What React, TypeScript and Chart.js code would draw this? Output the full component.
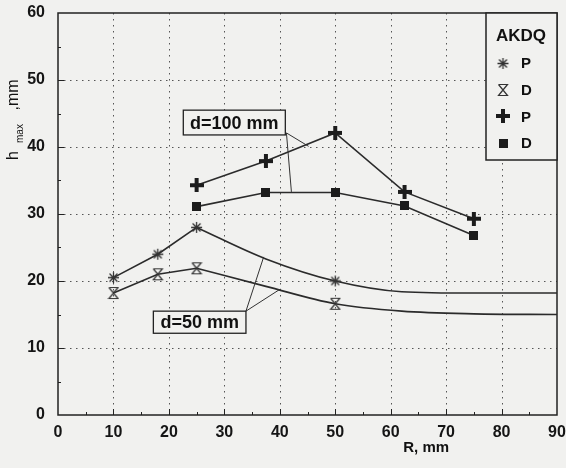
import React, { useEffect, useRef } from 'react';
import { Chart, registerables } from 'chart.js';

Chart.register(...registerables);

// ---- data ----
const rP50 = [10, 18, 25, 50];
const hP50 = [20.5, 24.0, 28.0, 20.0];
const rD50 = [10, 18, 25, 50];
const hD50 = [18.2, 21.0, 21.9, 16.6];
const rP50Fit = [25, 37.5, 50, 62, 75, 90];
const hP50Fit = [28.0, 23.3, 20.0, 18.4, 18.2, 18.2];
const rD50Fit = [25, 37.5, 50, 62, 75, 90];
const hD50Fit = [21.9, 19.2, 16.6, 15.5, 15.1, 15.0];
const rP100 = [25, 37.5, 50, 62.5, 75];
const hP100 = [34.3, 37.9, 42.1, 33.3, 29.3];
const rD100 = [25, 37.5, 50, 62.5, 75];
const hD100 = [31.1, 33.2, 33.2, 31.2, 26.8];

const xMin = 0, xMax = 90, xStep = 10;
const yMin = 0, yMax = 60, yStep = 10;

const legendTitle = 'AKDQ';
const legendLabels = ['P', 'D', 'P', 'D'];
const xTitle = 'R, mm';
const yTitleParts = ['h', 'max', ' ,mm'];

// annotation boxes in data units: [rLeft, rRight, hTop, hBottom]
const note100Text = 'd=100 mm';
const note100Box = [22.6, 41.0, 45.5, 41.8];
const note100From = [41.2, 42.1];
const note100To = [[45.2, 40.1], [42.1, 33.3]];
const note50Text = 'd=50 mm';
const note50Box = [17.2, 33.9, 15.5, 12.2];
const note50From = [33.9, 15.5];
const note50To = [[37.1, 23.6], [40.1, 18.8]];

const BG = '#f1f1ef';
const INK = '#222222';
const LINE = '#2b2b2b';

function makeCanvas(w: number, h: number, draw: (g: CanvasRenderingContext2D) => void) {
  const c = document.createElement('canvas');
  c.width = w;
  c.height = h;
  const g = c.getContext('2d')!;
  draw(g);
  return c;
}

export default function App() {
  const ref = useRef<HTMLCanvasElement>(null);

  useEffect(() => {
    document.body.style.margin = '0';
    const starImg = makeCanvas(13, 13, (g) => {
      g.strokeStyle = '#333';
      g.lineWidth = 1.3;
      const c = 6.5, r = 5.5, d = r * 0.72;
      g.beginPath();
      g.moveTo(c - r, c); g.lineTo(c + r, c);
      g.moveTo(c, c - r); g.lineTo(c, c + r);
      g.moveTo(c - d, c - d); g.lineTo(c + d, c + d);
      g.moveTo(c - d, c + d); g.lineTo(c + d, c - d);
      g.stroke();
    });
    const hourImg = makeCanvas(12, 14, (g) => {
      g.strokeStyle = '#333';
      g.lineWidth = 1.2;
      g.beginPath();
      g.moveTo(1.5, 1.5); g.lineTo(10.5, 1.5);
      g.lineTo(1.5, 12.5); g.lineTo(10.5, 12.5);
      g.lineTo(1.5, 1.5);
      g.stroke();
    });
    const crossImg = makeCanvas(14, 14, (g) => {
      g.fillStyle = '#1c1c1c';
      g.fillRect(5, 0, 4, 14);
      g.fillRect(0, 5, 14, 4);
    });
    const squareImg = makeCanvas(9, 9, (g) => {
      g.fillStyle = '#1c1c1c';
      g.fillRect(0, 0, 9, 9);
    });
    const legendImgs = [starImg, hourImg, crossImg, squareImg];

    const pts = (xs: number[], ys: number[]) => xs.map((x, i) => ({ x, y: ys[i] }));
    const hideAfter2 = { borderColor: (ctx: any) => (ctx.p0DataIndex >= 2 ? 'rgba(0,0,0,0)' : undefined) };

    const bgPlugin = {
      id: 'bg',
      beforeDraw(chart: any) {
        const { ctx, width, height } = chart;
        ctx.save();
        ctx.fillStyle = BG;
        ctx.fillRect(0, 0, width, height);
        ctx.restore();
      },
    };

    const framePlugin = {
      id: 'frame',
      beforeDatasetsDraw(chart: any) {
        const { ctx, chartArea: a, scales } = chart;
        const xs = scales.x, ys = scales.y;
        ctx.save();
        ctx.strokeStyle = '#555';
        ctx.lineWidth = 1;
        ctx.setLineDash([1.5, 4.5]);
        for (let v = xMin + xStep; v < xMax; v += xStep) {
          const px = Math.round(xs.getPixelForValue(v)) + 0.5;
          ctx.beginPath(); ctx.moveTo(px, a.top); ctx.lineTo(px, a.bottom); ctx.stroke();
        }
        for (let v = yMin + yStep; v < yMax; v += yStep) {
          const py = Math.round(ys.getPixelForValue(v)) + 0.5;
          ctx.beginPath(); ctx.moveTo(a.left, py); ctx.lineTo(a.right, py); ctx.stroke();
        }
        ctx.setLineDash([]);
        ctx.strokeStyle = INK;
        ctx.lineWidth = 1;
        for (let v = xMin + xStep / 2; v < xMax; v += xStep / 2) {
          const px = Math.round(xs.getPixelForValue(v)) + 0.5;
          const len = Math.abs(v % xStep) < 1e-6 ? 6 : 3;
          ctx.beginPath(); ctx.moveTo(px, a.bottom); ctx.lineTo(px, a.bottom - len); ctx.stroke();
        }
        for (let v = yMin + yStep / 2; v < yMax; v += yStep / 2) {
          const py = Math.round(ys.getPixelForValue(v)) + 0.5;
          const len = Math.abs(v % yStep) < 1e-6 ? 6 : 3;
          ctx.beginPath(); ctx.moveTo(a.left, py); ctx.lineTo(a.left + len, py); ctx.stroke();
        }
        ctx.lineWidth = 1.5;
        ctx.strokeStyle = INK;
        ctx.strokeRect(a.left, a.top, a.right - a.left, a.bottom - a.top);
        ctx.restore();
      },
    };

    const drawNote = (chart: any, text: string, box: number[], from: number[], to: number[][]) => {
      const { ctx, scales } = chart;
      const X = (v: number) => scales.x.getPixelForValue(v);
      const Y = (v: number) => scales.y.getPixelForValue(v);
      ctx.save();
      ctx.strokeStyle = '#333';
      ctx.lineWidth = 1;
      to.forEach((t) => {
        ctx.beginPath();
        ctx.moveTo(X(from[0]), Y(from[1]));
        ctx.lineTo(X(t[0]), Y(t[1]));
        ctx.stroke();
      });
      const l = X(box[0]), r = X(box[1]), t = Y(box[2]), b = Y(box[3]);
      ctx.fillStyle = BG;
      ctx.fillRect(l, t, r - l, b - t);
      ctx.lineWidth = 1.3;
      ctx.strokeStyle = INK;
      ctx.strokeRect(l, t, r - l, b - t);
      ctx.fillStyle = '#111';
      ctx.font = 'bold 18px "Liberation Sans", Arial, sans-serif';
      ctx.textAlign = 'center';
      ctx.textBaseline = 'middle';
      ctx.fillText(text, (l + r) / 2, (t + b) / 2 + 1);
      ctx.restore();
    };

    const overlayPlugin = {
      id: 'overlay',
      afterDatasetsDraw(chart: any) {
        const { ctx, chartArea: a, scales } = chart;
        drawNote(chart, note100Text, note100Box, note100From, note100To);
        drawNote(chart, note50Text, note50Box, note50From, note50To);

        // legend box
        ctx.save();
        const lw = 71, lh = 147;
        const L = a.right - lw, T = a.top;
        ctx.fillStyle = BG;
        ctx.fillRect(L, T, lw, lh);
        ctx.lineWidth = 1.5;
        ctx.strokeStyle = INK;
        ctx.strokeRect(L, T, lw, lh);
        ctx.fillStyle = '#111';
        ctx.font = 'bold 17px "Liberation Sans", Arial, sans-serif';
        ctx.textAlign = 'center';
        ctx.textBaseline = 'middle';
        ctx.fillText(legendTitle, L + 35, T + 23);
        ctx.font = 'bold 15px "Liberation Sans", Arial, sans-serif';
        ctx.textAlign = 'left';
        legendLabels.forEach((lab, i) => {
          const cy = T + 50 + i * 26.7;
          const img = legendImgs[i];
          ctx.drawImage(img, L + 17 - img.width / 2, Math.round(cy - img.height / 2));
          ctx.fillText(lab, L + 35, cy + 1);
        });

        // axis titles
        ctx.font = 'bold 15px "Liberation Sans", Arial, sans-serif';
        ctx.textAlign = 'center';
        ctx.textBaseline = 'middle';
        ctx.fillText(xTitle, scales.x.getPixelForValue(66.4), a.bottom + 33);

        ctx.translate(18, 160);
        ctx.rotate(-Math.PI / 2);
        ctx.textAlign = 'left';
        ctx.textBaseline = 'alphabetic';
        ctx.font = '16px "Liberation Sans", Arial, sans-serif';
        ctx.fillText(yTitleParts[0], 0, 0);
        ctx.font = '10px "Liberation Sans", Arial, sans-serif';
        ctx.fillText(yTitleParts[1], 17, 5);
        ctx.font = '16px "Liberation Sans", Arial, sans-serif';
        ctx.fillText(yTitleParts[2], 45, 0);
        ctx.restore();
      },
    };

    const tickFont = { family: '"Liberation Sans", Arial, sans-serif', size: 16, weight: 'bold' as const };

    const chart = new Chart(ref.current!, {
      type: 'line',
      data: {
        datasets: [
          { label: 'P d=50', data: pts(rP50, hP50), borderColor: LINE, borderWidth: 1.6, pointStyle: starImg as any, pointRadius: 5, segment: hideAfter2 as any },
          { label: 'D d=50', data: pts(rD50, hD50), borderColor: LINE, borderWidth: 1.6, pointStyle: hourImg as any, pointRadius: 5, segment: hideAfter2 as any },
          { label: 'P d=50 fit', data: pts(rP50Fit, hP50Fit), borderColor: LINE, borderWidth: 1.6, pointRadius: 0, cubicInterpolationMode: 'monotone' },
          { label: 'D d=50 fit', data: pts(rD50Fit, hD50Fit), borderColor: LINE, borderWidth: 1.6, pointRadius: 0, cubicInterpolationMode: 'monotone' },
          { label: 'P d=100', data: pts(rP100, hP100), borderColor: LINE, borderWidth: 1.6, pointStyle: crossImg as any, pointRadius: 5 },
          { label: 'D d=100', data: pts(rD100, hD100), borderColor: LINE, borderWidth: 1.6, pointStyle: squareImg as any, pointRadius: 5 },
        ],
      },
      options: {
        responsive: false,
        animation: false,
        devicePixelRatio: 1,
        layout: { padding: { top: 13, right: 9, left: 0, bottom: 0 } },
        plugins: { legend: { display: false }, tooltip: { enabled: false } },
        scales: {
          x: {
            type: 'linear',
            min: xMin,
            max: xMax,
            grid: { display: false },
            border: { display: false },
            ticks: { stepSize: xStep, autoSkip: false, maxRotation: 0, color: '#151515', font: tickFont, padding: 0 },
            afterFit: (s: any) => { s.height = 53; s.paddingRight = 0; s.paddingLeft = 0; },
          },
          y: {
            type: 'linear',
            min: yMin,
            max: yMax,
            grid: { display: false },
            border: { display: false },
            ticks: { stepSize: yStep, color: '#151515', font: tickFont, padding: 5 },
            afterFit: (s: any) => { s.width = 58; s.paddingTop = 0; s.paddingBottom = 0; },
          },
        },
      },
      plugins: [bgPlugin, framePlugin, overlayPlugin],
    });
    return () => chart.destroy();
  }, []);

  return <canvas ref={ref} width={566} height={468} style={{ display: 'block' }} />;
}
